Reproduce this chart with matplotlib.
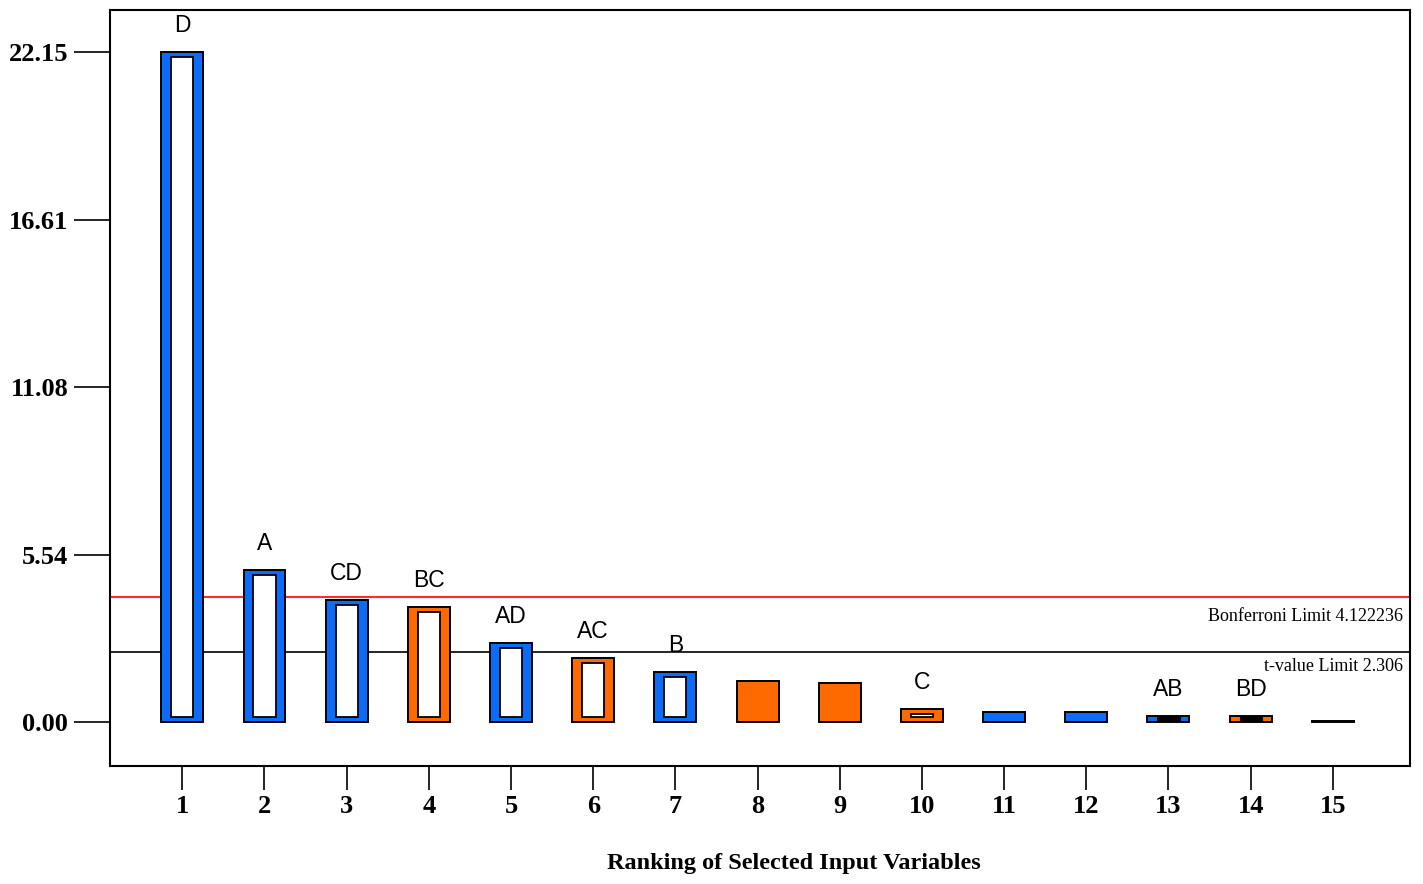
#Pareto chart of t-values for ranked input terms
import matplotlib.pyplot as plt
import numpy as np

terms = ['D', 'A', 'CD', 'BC', 'AD', 'AC', 'B', '', '', 'C', '', '', 'AB', 'BD', '']
t_values = [22.15, 5.02, 4.03, 3.80, 2.61, 2.12, 1.65, 1.36, 1.29, 0.43, 0.33, 0.33, 0.20, 0.20, 0.03]
signs = ['+', '+', '+', '-', '+', '-', '+', '-', '-', '-', '+', '+', '+', '-', '+']
bonferroni = 4.122236
t_limit = 2.306
ytick_vals = [0.00, 5.54, 11.08, 16.61, 22.15]

blue = '#0a6cf7'
orange = '#ff6a00'
serif = 'Liberation Serif'
sans = 'Liberation Sans'

fig = plt.figure(figsize=(14.23, 8.84), dpi=100)
ax = fig.add_axes([0.0773, 0.1335, 0.9136, 0.8552])

rank = np.arange(1, len(t_values) + 1)
colors = [blue if s == '+' else orange for s in signs]
width = 0.51
pad_x = 0.12
pad_y = 0.17

# outer coloured bars
ax.bar(rank, t_values, width, color=colors, edgecolor='black', linewidth=1.4, zorder=3)

# inner hollow part for the labelled (selected) terms
for r, v, name in zip(rank, t_values, terms):
    if not name:
        continue
    inner_h = v - 2 * pad_y
    if inner_h > 0.05:
        ax.bar(r, inner_h, width - 2 * pad_x, bottom=pad_y, color='white',
               edgecolor='black', linewidth=1.3, zorder=4)
    else:
        h = v * 0.6
        ax.bar(r, h, width - 2 * pad_x, bottom=(v - h) / 2, color='black',
               edgecolor='black', linewidth=0.8, zorder=4)
    ax.text(r, v + 0.5, name, ha='center', va='bottom', fontsize=16.5,
            family=sans, zorder=5)

# limit lines
ax.axhline(bonferroni, color='#ff2a2a', linewidth=1.5, zorder=1)
ax.axhline(t_limit, color='black', linewidth=1.2, zorder=1)
ax.text(15.85, bonferroni - 0.35, 'Bonferroni Limit 4.122236', ha='right', va='top',
        fontsize=13, family=serif)
ax.text(15.85, t_limit - 0.2, 't-value Limit 2.306', ha='right', va='top',
        fontsize=13, family=serif)

ax.set_xlim(0.12, 15.94)
ax.set_ylim(-1.45, 23.54)
ax.set_xticks(rank)
ax.set_xticklabels([str(r) for r in rank], fontsize=19, family=serif, fontweight='bold')
ax.set_yticks(ytick_vals)
ax.set_yticklabels(['%.2f' % v for v in ytick_vals], fontsize=19, family=serif,
                   fontweight='bold')
ax.tick_params(axis='y', direction='out', length=26, width=1.2, pad=4)
ax.tick_params(axis='x', direction='out', length=17, width=1.2, pad=4)
for sp in ax.spines.values():
    sp.set_linewidth(1.5)

fig.text(794 / 1423, 1 - 864 / 884, 'Ranking of Selected Input Variables', ha='center',
         va='center', fontsize=17.5, family=serif, fontweight='bold')

plt.savefig('out.png')
